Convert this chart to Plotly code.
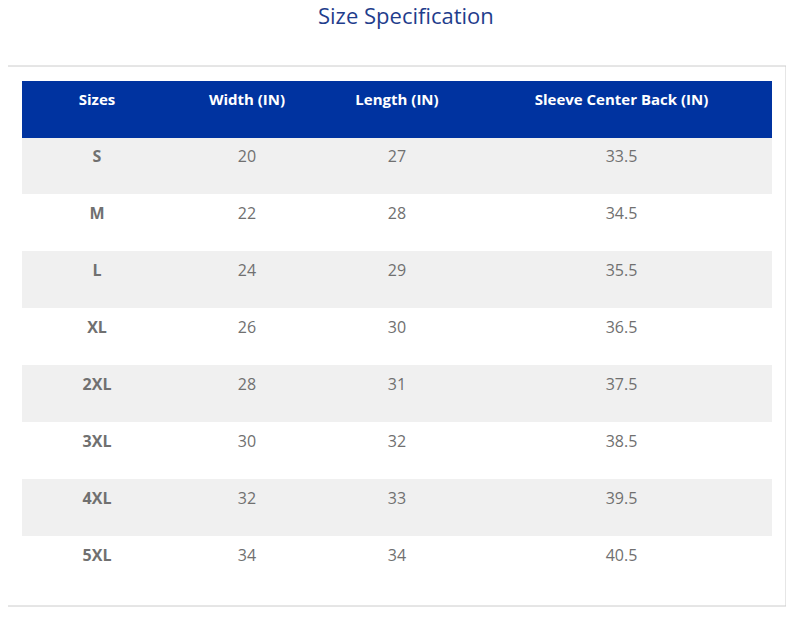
import plotly.graph_objects as go

sizes = ["S", "M", "L", "XL", "2XL", "3XL", "4XL", "5XL"]
width_in = ["20", "22", "24", "26", "28", "30", "32", "34"]
length_in = ["27", "28", "29", "30", "31", "32", "33", "34"]
sleeve_in = ["33.5", "34.5", "35.5", "36.5", "37.5", "38.5", "39.5", "40.5"]
headers = ["Sizes", "Width (IN)", "Length (IN)", "Sleeve Center Back (IN)"]

row_fill = ["#f0f0f0" if i % 2 == 0 else "#ffffff" for i in range(len(sizes))]

W, H = 794, 637
OFF = 8  # page body margin


def px_x(v):
    return (v - OFF) / W


def px_y(v):
    return 1 - (v - OFF) / H


def plain(vals):
    return ["<span>%s</span>" % v for v in vals]


fig = go.Figure(go.Table(
    domain=dict(x=[px_x(22), px_x(771)], y=[px_y(592), px_y(81)]),
    columnwidth=[150, 150, 150, 299],
    header=dict(
        values=["<b>%s</b>" % h for h in headers],
        fill_color="#0033a0", line_color="#0033a0",
        font=dict(color="white", size=15, family="Open Sans"),
        align="center", height=56,
    ),
    cells=dict(
        values=[["<b>%s</b>" % s for s in sizes], plain(width_in),
                plain(length_in), plain(sleeve_in)],
        fill_color=[row_fill] * 4, line_color=[row_fill] * 4,
        font=dict(color="#707070", size=16, family="Open Sans"),
        align="center", height=57,
    ),
))

fig.add_shape(type="rect", xref="paper", yref="paper",
              x0=px_x(7), x1=px_x(786), y0=px_y(606), y1=px_y(66),
              line=dict(color="#cccccc", width=1))
fig.add_annotation(text="Size Specification", x=px_x(406), y=px_y(33 - 18),
                   xref="paper", yref="paper", showarrow=False,
                   yanchor="middle",
                   font=dict(size=22, color="#1f3d8c", family="Open Sans"))

fig.update_layout(width=W, height=H, margin=dict(l=0, r=0, t=0, b=0),
                  paper_bgcolor="white", plot_bgcolor="white")
fig.write_html("out.html")
